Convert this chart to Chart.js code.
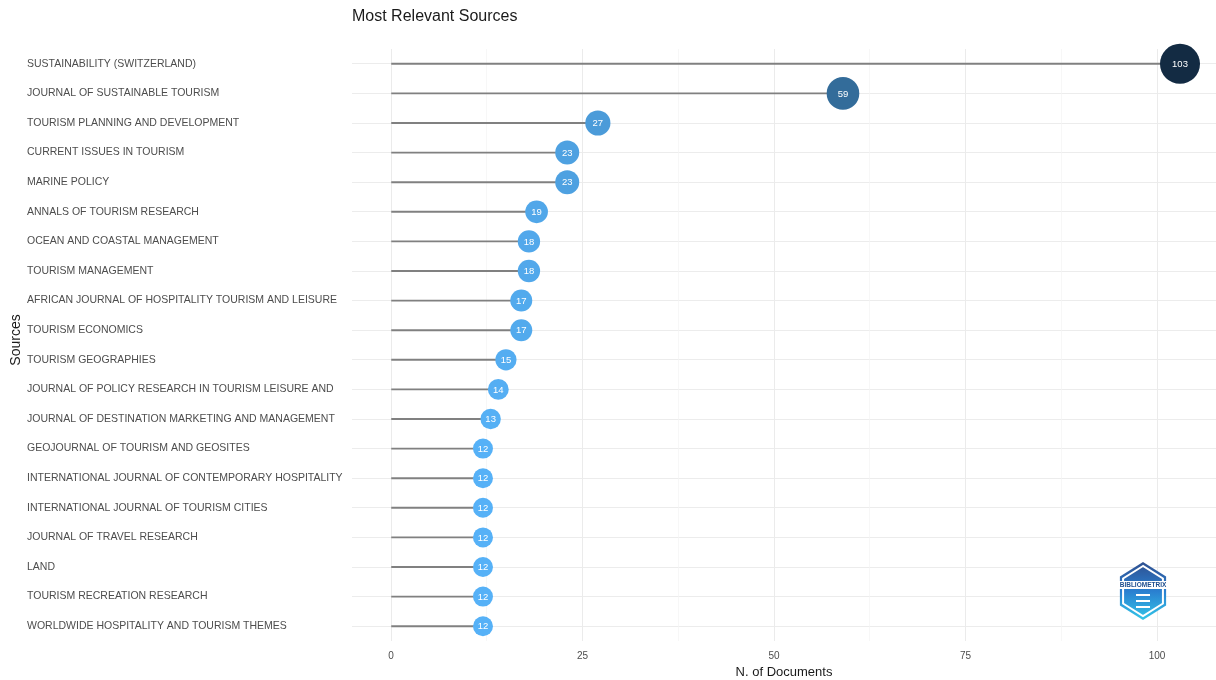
<!DOCTYPE html>
<html>
<head>
<meta charset="utf-8">
<script src="https://cdn.jsdelivr.net/npm/chart.js@4"></script>
<style>
html,body{margin:0;padding:0;background:#fff;}
#wrap{width:1216px;height:680px;position:relative;}
</style>
</head>
<body>
<div id="wrap"><canvas id="c" width="1216" height="680"></canvas></div>
<script>
const sources = [
  "SUSTAINABILITY (SWITZERLAND)",
  "JOURNAL OF SUSTAINABLE TOURISM",
  "TOURISM PLANNING AND DEVELOPMENT",
  "CURRENT ISSUES IN TOURISM",
  "MARINE POLICY",
  "ANNALS OF TOURISM RESEARCH",
  "OCEAN AND COASTAL MANAGEMENT",
  "TOURISM MANAGEMENT",
  "AFRICAN JOURNAL OF HOSPITALITY TOURISM AND LEISURE",
  "TOURISM ECONOMICS",
  "TOURISM GEOGRAPHIES",
  "JOURNAL OF POLICY RESEARCH IN TOURISM LEISURE AND",
  "JOURNAL OF DESTINATION MARKETING AND MANAGEMENT",
  "GEOJOURNAL OF TOURISM AND GEOSITES",
  "INTERNATIONAL JOURNAL OF CONTEMPORARY HOSPITALITY",
  "INTERNATIONAL JOURNAL OF TOURISM CITIES",
  "JOURNAL OF TRAVEL RESEARCH",
  "LAND",
  "TOURISM RECREATION RESEARCH",
  "WORLDWIDE HOSPITALITY AND TOURISM THEMES"
];
const documents = [103, 59, 27, 23, 23, 19, 18, 18, 17, 17, 15, 14, 13, 12, 12, 12, 12, 12, 12, 12];
const xTicks = [0, 25, 50, 75, 100];
const xMinorTicks = [12.5, 37.5, 62.5, 87.5];

const FONT = "'Liberation Sans', Arial, Helvetica, sans-serif";
const vMin = Math.min(...documents), vMax = Math.max(...documents);
const lowC = [86, 177, 247], highC = [19, 43, 67];
function colorFor(v){
  const t = (v - vMin) / (vMax - vMin);
  const c = lowC.map((l,i)=>Math.round(l + (highC[i]-l)*t));
  return `rgb(${c[0]},${c[1]},${c[2]})`;
}
function radiusFor(v){
  const t = (Math.sqrt(v) - Math.sqrt(vMin)) / (Math.sqrt(vMax) - Math.sqrt(vMin));
  return 10 + t * 10;
}

const overlay = {
  id: 'overlay',
  afterDatasetsDraw(chart){
    const ctx = chart.ctx;
    const meta = chart.getDatasetMeta(1);
    ctx.save();
    ctx.fillStyle = '#ffffff';
    ctx.font = "9.5px " + FONT;
    ctx.textAlign = 'center';
    ctx.textBaseline = 'middle';
    meta.data.forEach((pt, i) => {
      ctx.fillText(String(documents[i]), pt.x, pt.y + 0.5);
    });
    ctx.restore();
  },
  afterDraw(chart){
    const ctx = chart.ctx;
    ctx.save();
    // title
    ctx.fillStyle = '#1a1a1a';
    ctx.font = "16px " + FONT;
    ctx.textAlign = 'left';
    ctx.textBaseline = 'middle';
    ctx.fillText('Most Relevant Sources', 352, 17);
    // y axis title
    ctx.translate(16, 340);
    ctx.rotate(-Math.PI/2);
    ctx.textAlign = 'center';
    ctx.font = "14px " + FONT;
    ctx.fillText('Sources', 0, 0);
    ctx.restore();
    // logo
    ctx.save();
    const cx = 1143, cy = 591, R = 29;
    const hex = (r) => {
      ctx.beginPath();
      for (let k = 0; k < 6; k++) {
        const a = Math.PI/2 + k*Math.PI/3;
        const px = cx + r*Math.cos(a)*0.92, py = cy - r*Math.sin(a);
        k ? ctx.lineTo(px, py) : ctx.moveTo(px, py);
      }
      ctx.closePath();
    };
    const g = ctx.createLinearGradient(0, cy-R, 0, cy+R);
    g.addColorStop(0, '#2f4f8f'); g.addColorStop(0.5, '#2a7fd0'); g.addColorStop(1, '#33c6e8');
    hex(R); ctx.fillStyle = g; ctx.fill();
    hex(R-4); ctx.lineWidth = 2; ctx.strokeStyle = '#ffffff'; ctx.stroke();
    ctx.fillStyle = '#ffffff';
    ctx.fillRect(cx-24, cy-10, 48, 8);
    ctx.fillStyle = '#1f4f8f';
    ctx.font = "bold 6.5px " + FONT;
    ctx.textAlign = 'center'; ctx.textBaseline = 'middle';
    ctx.fillText('BIBLIOMETRIX', cx, cy-6);
    ctx.strokeStyle = '#ffffff'; ctx.lineWidth = 2;
    ctx.beginPath();
    ctx.moveTo(cx-7, cy+4); ctx.lineTo(cx+7, cy+4);
    ctx.moveTo(cx-7, cy+10); ctx.lineTo(cx+7, cy+10);
    ctx.moveTo(cx-7, cy+16); ctx.lineTo(cx+7, cy+16);
    ctx.stroke();
    ctx.restore();
  }
};

new Chart(document.getElementById('c'), {
  type: 'bar',
  data: {
    labels: sources,
    datasets: [
      {
        data: documents,
        backgroundColor: '#808080',
        barThickness: 1.2,
        order: 2
      },
      {
        type: 'line',
        indexAxis: 'y',
        data: documents,
        showLine: false,
        clip: false,
        pointRadius: documents.map(radiusFor),
        pointHoverRadius: documents.map(radiusFor),
        pointBackgroundColor: documents.map(colorFor),
        pointBorderWidth: 0,
        order: 1
      }
    ]
  },
  options: {
    indexAxis: 'y',
    responsive: false,
    animation: false,
    events: [],
    layout: { autoPadding: false, padding: { top: 49, left: 27, right: 0, bottom: 0 } },
    plugins: { legend: { display: false }, tooltip: { enabled: false }, title: { display: false } },
    scales: {
      y: {
        type: 'category',
        offset: true,
        grid: { offset: false, color: '#ececec', lineWidth: 1, drawTicks: false },
        border: { display: false },
        ticks: { crossAlign: 'far', color: '#4d4d4d', font: { family: FONT, size: 10.5 }, padding: 0 },
        afterFit(scale){ scale.width = 325; }
      },
      x: {
        type: 'linear',
        min: -5.1,
        max: 107.7,
        afterBuildTicks(scale){
          scale.ticks = [...xTicks, ...xMinorTicks].sort((a,b)=>a-b).map(v => ({ value: v }));
        },
        afterFit(scale){ scale.height = 39; },
        grid: {
          drawTicks: false,
          color: (c) => (c.tick && xTicks.includes(c.tick.value)) ? '#ebebeb' : '#f3f3f3',
          lineWidth: (c) => (c.tick && xTicks.includes(c.tick.value)) ? 1 : 0.7
        },
        border: { display: false },
        ticks: {
          color: '#4d4d4d',
          font: { family: FONT, size: 10 },
          padding: 9,
          autoSkip: false,
          maxRotation: 0,
          callback: (v) => xTicks.includes(v) ? String(v) : ''
        },
        title: {
          display: true,
          text: 'N. of Documents',
          color: '#1a1a1a',
          font: { family: FONT, size: 13 },
          padding: { top: 2, bottom: 0 }
        }
      }
    }
  },
  plugins: [overlay]
});
</script>
</body>
</html>
